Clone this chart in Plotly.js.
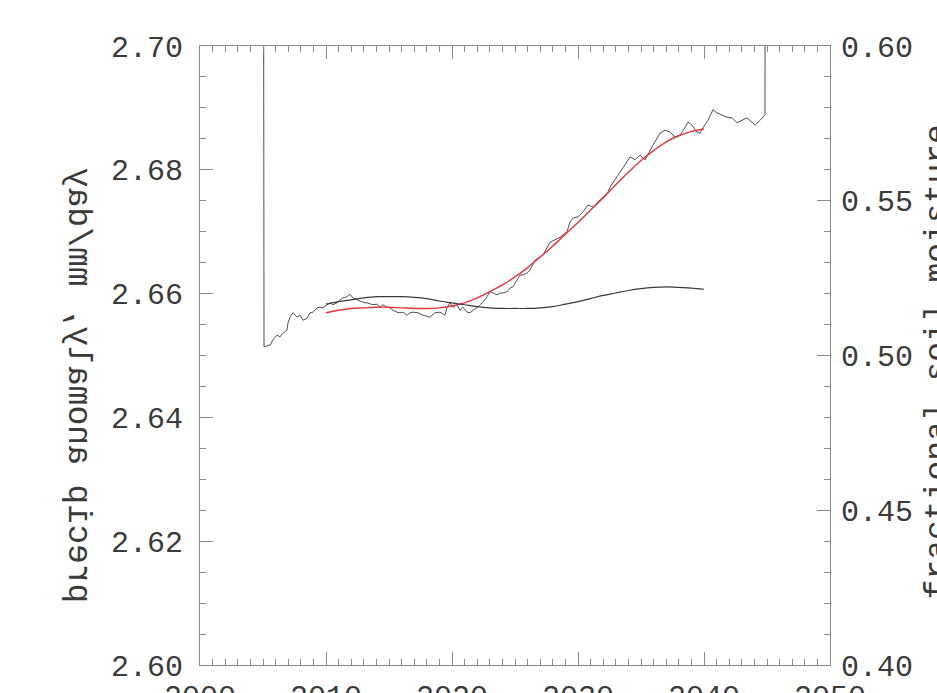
<!DOCTYPE html>
<html>
<head>
<meta charset="utf-8">
<script src="https://cdn.plot.ly/plotly-3.0.1.min.js"></script>
<style>
  html, body { margin: 0; padding: 0; background: #fff; }
  #chart { width: 937px; height: 693px; }
</style>
</head>
<body>
<div id="chart"></div>
<script>
// Monthly-ish precipitation anomaly (running series); the end values above
// the axis range are the missing-value flags that draw the vertical drops.
const precipYears = [
  2005.00, 2005.08, 2005.56, 2005.79, 2006.11, 2006.35, 2006.59, 2006.90, 2006.98, 2007.14,
  2007.38, 2007.70, 2007.94, 2008.17, 2008.49, 2008.73, 2008.97, 2009.29, 2009.52, 2009.76,
  2010.08, 2010.32, 2010.56, 2010.87, 2011.11, 2011.35, 2011.67, 2011.90, 2012.14, 2012.46,
  2012.70, 2012.94, 2013.25, 2013.49, 2013.73, 2014.05, 2014.29, 2014.52, 2014.84, 2015.08,
  2015.32, 2015.63, 2015.87, 2016.11, 2016.43, 2016.67, 2016.90, 2017.30, 2017.70, 2018.25,
  2018.65, 2019.05, 2019.44, 2019.60, 2019.84, 2020.08, 2020.40, 2020.63, 2020.87, 2021.19,
  2021.43, 2021.67, 2021.98, 2022.22, 2022.46, 2022.78, 2023.02, 2023.25, 2023.57, 2023.81,
  2024.05, 2024.37, 2024.60, 2024.84, 2025.16, 2025.40, 2025.63, 2025.95, 2026.19, 2026.43,
  2026.59, 2026.98, 2027.22, 2027.78, 2028.17, 2028.57, 2029.13, 2029.37, 2029.60, 2030.00,
  2030.40, 2030.79, 2031.19, 2031.59, 2031.98, 2032.38, 2032.54, 2033.10, 2033.33, 2033.73,
  2034.13, 2034.52, 2034.92, 2035.32, 2035.87, 2036.27, 2036.51, 2036.90, 2037.30, 2037.70,
  2038.10, 2038.49, 2038.73, 2039.05, 2039.44, 2039.68, 2039.92, 2040.32, 2040.71, 2041.03,
  2041.43, 2041.83, 2042.22, 2042.62, 2043.02, 2043.41, 2043.81, 2044.05, 2044.44, 2044.84,
  2044.90
];
const precipAnomaly = [
  2.80, 2.6514, 2.6517, 2.6525, 2.6533, 2.6530, 2.6536, 2.6541, 2.6552, 2.6562,
  2.6569, 2.6562, 2.6565, 2.6557, 2.6560, 2.6569, 2.6570, 2.6577, 2.6578, 2.6577,
  2.6582, 2.6585, 2.6582, 2.6585, 2.6590, 2.6593, 2.6595, 2.6599, 2.6593, 2.6590,
  2.6588, 2.6586, 2.6585, 2.6583, 2.6582, 2.6583, 2.6578, 2.6582, 2.6578, 2.6577,
  2.6573, 2.6570, 2.6569, 2.6570, 2.6565, 2.6569, 2.6570, 2.6569, 2.6565, 2.6562,
  2.6569, 2.6570, 2.6565, 2.6577, 2.6585, 2.6578, 2.6582, 2.6573, 2.6578, 2.6570,
  2.6569, 2.6573, 2.6577, 2.6582, 2.6586, 2.6595, 2.6603, 2.6601, 2.6598, 2.6601,
  2.6601, 2.6603, 2.6609, 2.6611, 2.6622, 2.6630, 2.6630, 2.6633, 2.6638, 2.6649,
  2.6654, 2.6659, 2.6662, 2.6683, 2.6687, 2.6691, 2.6700, 2.6716, 2.6722, 2.6724,
  2.6732, 2.6743, 2.6740, 2.6748, 2.6756, 2.6764, 2.6772, 2.6788, 2.6795, 2.6808,
  2.6821, 2.6816, 2.6824, 2.6816, 2.6837, 2.6851, 2.6859, 2.6864, 2.6861, 2.6853,
  2.6856, 2.6868, 2.6877, 2.6872, 2.6861, 2.6859, 2.6868, 2.6880, 2.6897, 2.6892,
  2.6889, 2.6885, 2.6884, 2.6876, 2.6880, 2.6884, 2.6877, 2.6872, 2.6880, 2.6889,
  2.80
];

// Smoothed fits, 2010-2040
const fitYears = [
  2010, 2011, 2012, 2013, 2014, 2015, 2016, 2017, 2018, 2019, 2020,
  2021, 2022, 2023, 2024, 2025, 2026, 2027, 2028, 2029, 2030,
  2031, 2032, 2033, 2034, 2035, 2036, 2037, 2038, 2039, 2040
];
const precipFit = [
  2.6569, 2.6573, 2.6576, 2.6577, 2.6578, 2.6578, 2.6577, 2.6576, 2.6576, 2.6577, 2.6580,
  2.6585, 2.6593, 2.6603, 2.6614, 2.6627, 2.6642, 2.6659, 2.6677, 2.6696, 2.6715,
  2.6735, 2.6755, 2.6776, 2.6796, 2.6815, 2.6831, 2.6845, 2.6855, 2.6862, 2.6866
];
const soilMoistureFit = [
  0.5166, 0.5174, 0.5180, 0.5186, 0.5190, 0.5190, 0.5190, 0.5188, 0.5184, 0.5176, 0.5170,
  0.5164, 0.5158, 0.5154, 0.5152, 0.5152, 0.5152, 0.5154, 0.5158, 0.5166, 0.5174,
  0.5184, 0.5194, 0.5202, 0.5210, 0.5216, 0.5220, 0.5222, 0.5220, 0.5218, 0.5214
];

const FONT = 'Liberation Mono, Courier New, monospace';
const AXIS = '#8a8a8a';
const LABEL = '#3a3a3a';

const traces = [
  {
    x: precipYears, y: precipAnomaly, type: 'scatter', mode: 'lines',
    line: { color: '#3c3c3c', width: 0.9 }, yaxis: 'y', hoverinfo: 'skip'
  },
  {
    x: fitYears, y: soilMoistureFit, type: 'scatter', mode: 'lines',
    line: { color: '#3a3a3a', width: 1.2, shape: 'spline' }, yaxis: 'y2', hoverinfo: 'skip'
  },
  {
    x: fitYears, y: precipFit, type: 'scatter', mode: 'lines',
    line: { color: '#e5353b', width: 1.4, shape: 'spline' }, yaxis: 'y', hoverinfo: 'skip'
  }
];

const tickFont = { family: FONT, size: 30, color: LABEL };

const layout = {
  width: 937, height: 693,
  margin: { l: 200, r: 107, t: 46, b: 28 },
  paper_bgcolor: '#fff', plot_bgcolor: '#fff',
  showlegend: false,
  xaxis: {
    range: [2000, 2050], tick0: 2000, dtick: 10,
    ticks: 'inside', ticklen: 13, tickwidth: 1, tickcolor: AXIS,
    minor: { dtick: 1, ticks: 'inside', ticklen: 6, tickcolor: AXIS, showgrid: false },
    showline: true, linecolor: AXIS, linewidth: 1, mirror: 'ticks',
    showgrid: false, zeroline: false,
    tickfont: tickFont, ticklabelstandoff: 4
  },
  yaxis: {
    range: [2.60, 2.70], tick0: 2.60, dtick: 0.02, tickformat: '.2f',
    ticks: 'inside', ticklen: 13, tickwidth: 1, tickcolor: AXIS,
    minor: { dtick: 0.005, ticks: 'inside', ticklen: 6, tickcolor: AXIS, showgrid: false },
    showline: true, linecolor: AXIS, linewidth: 1,
    showgrid: false, zeroline: false,
    tickfont: tickFont, ticklabelstandoff: 10
  },
  yaxis2: {
    overlaying: 'y', side: 'right',
    range: [0.40, 0.60], tick0: 0.40, dtick: 0.05, tickformat: '.2f',
    ticks: 'inside', ticklen: 13, tickwidth: 1, tickcolor: AXIS,
    minor: { dtick: 0.01, ticks: 'inside', ticklen: 6, tickcolor: AXIS, showgrid: false },
    showline: true, linecolor: AXIS, linewidth: 1,
    showgrid: false, zeroline: false,
    tickfont: tickFont, ticklabelstandoff: 4
  },
  annotations: [
    {
      text: 'precip anomaly, mm/day', textangle: -90, showarrow: false,
      xref: 'paper', yref: 'paper', x: -0.195, y: 0.452,
      xanchor: 'center', yanchor: 'middle',
      font: { family: FONT, size: 33, color: LABEL }
    },
    {
      text: 'fractional soil moisture', textangle: -90, showarrow: false,
      xref: 'paper', yref: 'paper', x: 1.14, y: 0.49,
      xanchor: 'left', yanchor: 'middle',
      font: { family: FONT, size: 33, color: LABEL }
    }
  ]
};

Plotly.newPlot('chart', traces, layout, { staticPlot: true, displayModeBar: false }).then(function (gd) {
  // The left axis label is drawn mirrored left-to-right about its own centre.
  const g = gd.querySelector('.annotation[data-index="0"] .annotation-text-g');
  if (g) {
    const svgBox = gd.querySelector('svg.main-svg').getBoundingClientRect();
    const box = g.getBoundingClientRect();
    const cx = (box.left + box.right) / 2 - svgBox.left;
    g.setAttribute('transform', 'translate(' + (2 * cx) + ',0) scale(-1,1) ' + (g.getAttribute('transform') || ''));
  }
});
</script>
</body>
</html>
